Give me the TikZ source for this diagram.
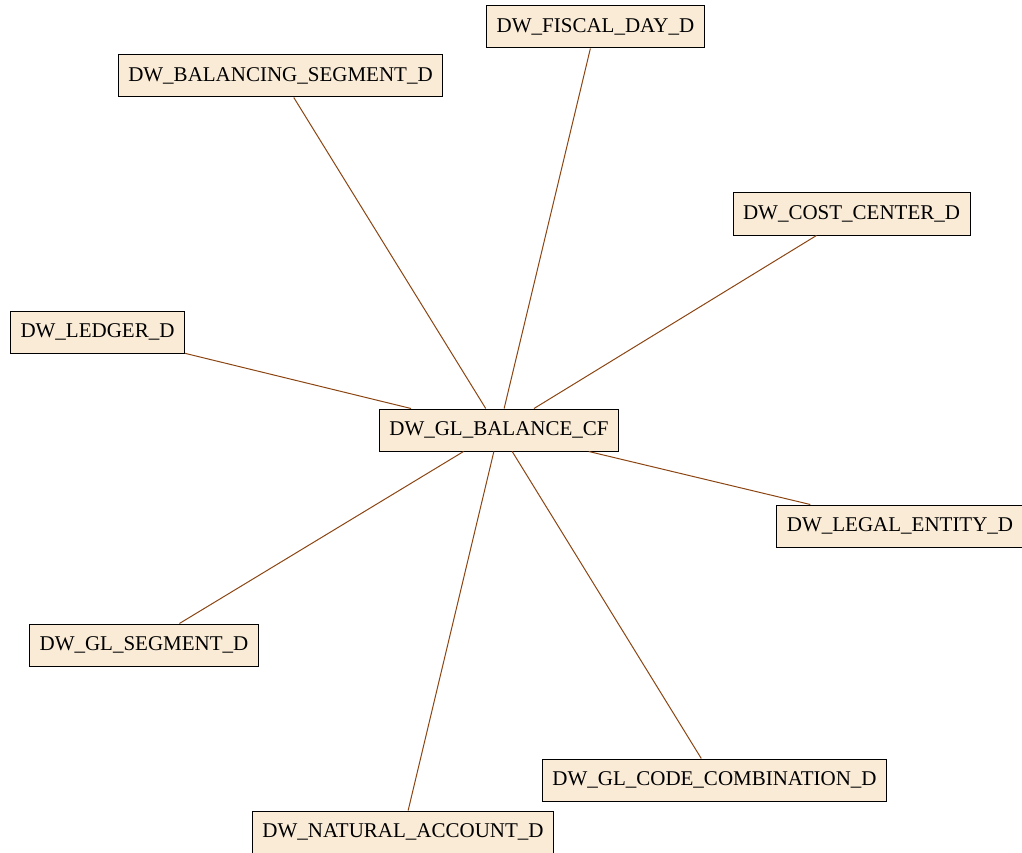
\documentclass[tikz,border=0pt]{standalone}
\usepackage{fontspec}
\setmainfont{Liberation Serif}
\usepackage{xcolor}
\usetikzlibrary{positioning, shapes, calc}

\definecolor{boxfill}{HTML}{FAEBD7}
\definecolor{edgebrown}{HTML}{8B4513}

\begin{document}
\begin{tikzpicture}[x=1pt, y=-1pt, every node/.style={draw, rectangle, fill=boxfill, line width=1pt, minimum height=42pt, inner xsep=10pt, font=\fontsize{21}{25}\selectfont}]

\useasboundingbox (0, 0) rectangle (1022, 853);

% Fact table in the middle
\node (gl_balance) at (499, 430) {DW\_GL\_BALANCE\_CF};

% Dimensions around it
\node (fiscal_day) at (595.5, 27) {DW\_FISCAL\_DAY\_D};
\node (bal_segment) at (280.5, 76) {DW\_BALANCING\_SEGMENT\_D};
\node (cost_center) at (851.5, 214) {DW\_COST\_CENTER\_D};
\node (ledger) at (97.5, 332) {DW\_LEDGER\_D};
\node (legal_entity) at (900, 526) {DW\_LEGAL\_ENTITY\_D};
\node (gl_segment) at (144, 645) {DW\_GL\_SEGMENT\_D};
\node (code_comb) at (714.5, 780) {DW\_GL\_CODE\_COMBINATION\_D};
\node (nat_account) at (403, 832) {DW\_NATURAL\_ACCOUNT\_D};

% Links to the fact table
\foreach \dim in {fiscal_day, bal_segment, cost_center, ledger, legal_entity, gl_segment, code_comb, nat_account}
  \draw[edgebrown, line width=1pt] (gl_balance) -- (\dim);

\end{tikzpicture}
\end{document}
